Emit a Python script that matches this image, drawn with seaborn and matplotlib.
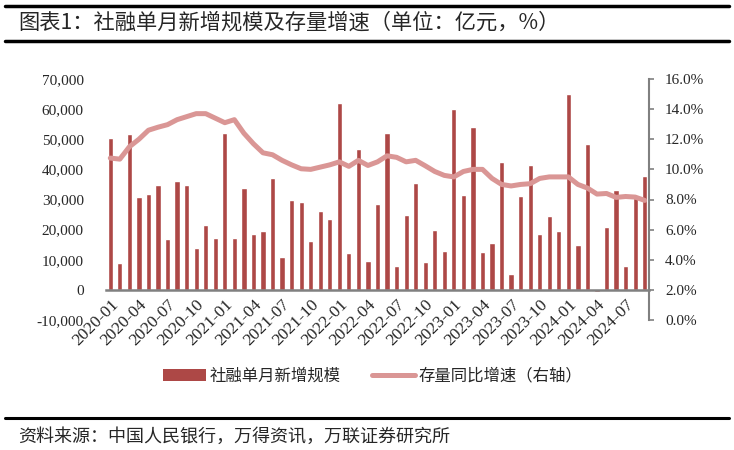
import numpy as np
import pandas as pd
import matplotlib
matplotlib.use("Agg")
import matplotlib.pyplot as plt
from matplotlib.lines import Line2D
from matplotlib.patches import Patch
from matplotlib.ticker import FixedLocator, FixedFormatter
import seaborn as sns

months = [f"{y}-{m:02d}" for y in range(2020, 2025) for m in range(1, 13)][:57]

new_financing = [
    50400, 8900, 51700, 30900, 31800, 34800, 16900, 36000, 34800, 14000, 21400, 17200,
    52000, 17200, 33800, 18600, 19400, 37100, 10800, 29900, 29100, 16200, 26200, 23500,
    61900, 12200, 46600, 9600, 28400, 52000, 8000, 24900, 35500, 9300, 19800, 13000,
    60000, 31600, 54000, 12500, 15600, 42400, 5300, 31200, 41400, 18600, 24600, 19400,
    64900, 15000, 48500, -800, 20800, 33100, 8000, 30400, 37700,
]

stock_growth = [
    10.75, 10.68, 11.5, 12.0, 12.6, 12.8, 12.97, 13.3, 13.5, 13.7, 13.7, 13.4,
    13.1, 13.3, 12.4, 11.7, 11.1, 10.97, 10.6, 10.3, 10.04, 10.0, 10.15, 10.3,
    10.5, 10.2, 10.6, 10.26, 10.5, 10.9, 10.8, 10.5, 10.6, 10.24, 9.86, 9.6,
    9.5, 9.86, 10.0, 10.0, 9.4, 9.0, 8.9, 9.0, 9.05, 9.4, 9.5, 9.5,
    9.5, 9.0, 8.76, 8.36, 8.4, 8.14, 8.2, 8.16, 7.94,
]

bar_label = "社融单月新增规模"
line_label = "存量同比增速（右轴）"
title_text = "图表1：社融单月新增规模及存量增速（单位：亿元，%）"
source_text = "资料来源：中国人民银行，万得资讯，万联证券研究所"

left_ticks = list(range(-10000, 70001, 10000))
right_ticks = list(range(0, 17, 2))

sns.set_theme(style="white")
plt.rcParams['font.family'] = ['Noto Sans CJK SC', 'DejaVu Sans']

BAR_C = "#AD4846"
LINE_C = "#DA9695"
GRAY = "#808080"
NUMFONT = 'Liberation Serif'

df = pd.DataFrame({"month": months, "value": new_financing, "growth": stock_growth})
df["idx"] = np.arange(len(df))

fig = plt.figure(figsize=(7.34, 4.5), dpi=100)
ax = fig.add_axes([106/734, 1-320/450, (649-106)/734, (320-79)/450])

sns.barplot(data=df, x="month", y="value", color=BAR_C, saturation=1, width=0.55, ax=ax)

ax2 = ax.twinx()
sns.lineplot(data=df, x="idx", y="growth", color=LINE_C, linewidth=3.6, ax=ax2)

# left axis
ax.set_ylim(-10000, 70000)
ax.yaxis.set_major_locator(FixedLocator(left_ticks))
ax.yaxis.set_major_formatter(FixedFormatter([f"{v:,}" if v != 0 else "0" for v in left_ticks]))
ax.set_xlabel("")
ax.set_ylabel("")
for s in ["left", "top", "right"]:
    ax.spines[s].set_visible(False)
ax.spines["bottom"].set_position(("data", 0))
ax.spines["bottom"].set_color(GRAY)
ax.spines["bottom"].set_linewidth(1.8)
ax.spines["bottom"].set_zorder(5)
ax.tick_params(axis="y", length=0, pad=16, labelsize=11, labelfontfamily=NUMFONT)

# right axis
ax2.set_ylim(0, 16)
ax2.yaxis.set_major_locator(FixedLocator(right_ticks))
ax2.yaxis.set_major_formatter(FixedFormatter([f"{v:.1f}%" for v in right_ticks]))
ax2.set_xlabel("")
ax2.set_ylabel("")
for s in ["left", "top", "bottom"]:
    ax2.spines[s].set_visible(False)
ax2.spines["right"].set_color(GRAY)
ax2.spines["right"].set_linewidth(1.5)
ax2.tick_params(axis="y", direction="out", length=3.5, width=1.2, color=GRAY, pad=8,
                right=True, labelsize=11, labelfontfamily=NUMFONT)
ax2.grid(False)
ax.grid(False)

# x axis (shared)
tick_pos = list(range(0, len(df), 3))
ax.set_xlim(-0.45, len(df) - 0.55)
ax.xaxis.set_major_locator(FixedLocator(tick_pos))
ax.xaxis.set_major_formatter(FixedFormatter([months[i] for i in tick_pos]))
ax.tick_params(axis="x", length=0, pad=5, labelsize=12.5, labelfontfamily=NUMFONT,
               labelrotation=45)
ax2.tick_params(axis="x", bottom=False, labelbottom=False, top=False, labeltop=False)
for lab in ax.get_xticklabels():
    lab.set_ha("right")
    lab.set_rotation_mode("anchor")

handles = [Patch(facecolor=BAR_C, edgecolor="none"),
           Line2D([0], [0], color=LINE_C, linewidth=3.6)]
fig.legend(handles, [bar_label, line_label], loc="center", bbox_to_anchor=(0.508, 1-376/450),
           ncol=2, frameon=False, fontsize=11.8, handlelength=2.6, columnspacing=1.9,
           handletextpad=0.25)

fig.add_artist(Line2D([5/734, 729/734], [1-6/450, 1-6/450], color="black", linewidth=2.5))
fig.add_artist(Line2D([5/734, 729/734], [1-41/450, 1-41/450], color="black", linewidth=2.5))
fig.add_artist(Line2D([5/734, 729/734], [1-418/450, 1-418/450], color="black", linewidth=2.2))
fig.text(18/734, 1-23/450, title_text, fontsize=15.3, va="center", ha="left")
fig.text(18/734, 1-437/450, source_text, fontsize=13, va="center", ha="left", style="italic")

fig.savefig("out.png", dpi=100)
